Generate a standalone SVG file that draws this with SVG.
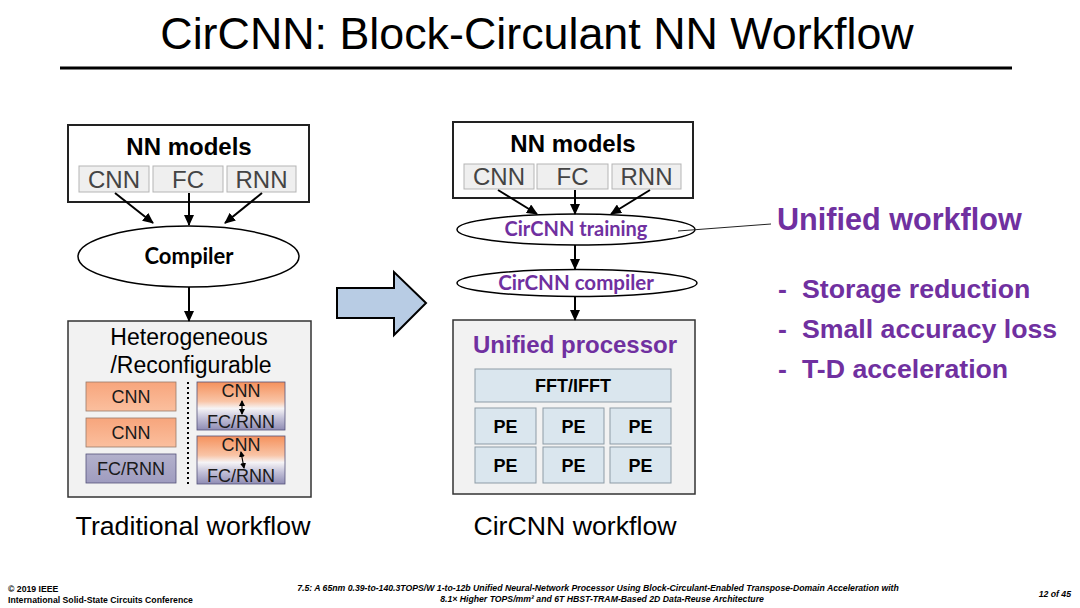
<svg xmlns="http://www.w3.org/2000/svg" width="1080" height="608" viewBox="0 0 1080 608">
<style>
.ar{font-family:"Liberation Sans",Arial,sans-serif}
.b{font-weight:bold}
.cal{font-family:Lato,"Open Sans",sans-serif;font-weight:bold}
.pur{fill:#7030a0}
.conn{stroke:#000;stroke-width:2;fill:none}
.sub{fill:#efefef;stroke:#b5b5b5;stroke-width:1}
.subt{font-family:"Liberation Sans",Arial,sans-serif;font-size:24px;fill:#444;text-anchor:middle}
.frame{fill:#f2f2f2;stroke:#333;stroke-width:1.5}
.blue{fill:#dae6ee;stroke:#8d9ba6;stroke-width:1}
.bt{font-family:"Liberation Sans",Arial,sans-serif;font-weight:bold;font-size:18px;fill:#000;text-anchor:middle}
.blk{font-family:"Liberation Sans",Arial,sans-serif;font-size:18px;fill:#1a1a1a;text-anchor:middle}
.ell{fill:#fff;stroke:#000;stroke-width:1.5}
.bul{font-family:"Liberation Sans",Arial,sans-serif;font-weight:bold;font-size:26.7px;fill:#7030a0}
.foot{font-family:"Liberation Sans",Arial,sans-serif;font-weight:bold;font-size:8.7px;fill:#000}
</style>
<defs>
<marker id="ah" markerUnits="userSpaceOnUse" markerWidth="11" markerHeight="10" refX="10" refY="5" orient="auto">
<path d="M0,0 L11,5 L0,10 z" fill="#000"/>
</marker>
<marker id="sh" markerUnits="userSpaceOnUse" markerWidth="6" markerHeight="6" refX="5" refY="3" orient="auto-start-reverse">
<path d="M0,0 L6,3 L0,6 z" fill="#000"/>
</marker>
<linearGradient id="org" x1="0" y1="0" x2="0" y2="1">
<stop offset="0" stop-color="#f7a57c"/>
<stop offset="1" stop-color="#fbbf9e"/>
</linearGradient>
<linearGradient id="prp" x1="0" y1="0" x2="0" y2="1">
<stop offset="0" stop-color="#b3b1cc"/>
<stop offset="1" stop-color="#9f9cbf"/>
</linearGradient>
<linearGradient id="mix" x1="0" y1="0" x2="0" y2="1">
<stop offset="0" stop-color="#f5915c"/>
<stop offset="0.4" stop-color="#f9c4a6"/>
<stop offset="0.55" stop-color="#f6f4f6"/>
<stop offset="0.75" stop-color="#c3c1d8"/>
<stop offset="1" stop-color="#8f8cb4"/>
</linearGradient>
</defs>
<rect width="1080" height="608" fill="#fff"/>

<g id="title">
<text x="537" y="49" class="ar" font-size="44.8" text-anchor="middle" fill="#000">CirCNN: Block-Circulant NN Workflow</text>
<line x1="60" y1="68" x2="1012" y2="68" stroke="#000" stroke-width="3"/>
</g>

<!-- Left: traditional workflow -->
<g id="left-nn-models">
<rect x="68" y="125" width="241" height="77" fill="#fff" stroke="#222" stroke-width="2"/>
<text x="189" y="155" class="ar b" font-size="24" text-anchor="middle">NN models</text>
<rect class="sub" x="79" y="166" width="70" height="26"/>
<text class="subt" x="114" y="188">CNN</text>
<rect class="sub" x="153" y="166" width="70" height="26"/>
<text class="subt" x="188" y="188">FC</text>
<rect class="sub" x="227" y="166" width="69" height="26"/>
<text class="subt" x="261.5" y="188">RNN</text>
</g>
<g id="left-compiler">
<ellipse class="ell" cx="188.5" cy="256.5" rx="110.5" ry="30.5"/>
<text class="cal" x="189" y="264" font-size="22" text-anchor="middle" fill="#000">Compiler</text>
</g>
<g id="left-hetero">
<rect class="frame" x="68" y="321" width="243" height="176"/>
<text class="ar" x="189" y="345" font-size="23" text-anchor="middle">Heterogeneous</text>
<text class="ar" x="191" y="373" font-size="23" text-anchor="middle">/Reconfigurable</text>
<rect x="86" y="382" width="90" height="29" fill="url(#org)" stroke="#9a7a6a" stroke-width="0.8"/>
<text class="blk" x="131" y="403">CNN</text>
<rect x="86" y="418" width="90" height="29" fill="url(#org)" stroke="#9a7a6a" stroke-width="0.8"/>
<text class="blk" x="131" y="439">CNN</text>
<rect x="86" y="454" width="90" height="29" fill="url(#prp)" stroke="#55537a" stroke-width="0.8"/>
<text class="blk" x="131" y="475">FC/RNN</text>
<line x1="188" y1="382" x2="188" y2="486" stroke="#000" stroke-width="2" stroke-dasharray="2,3"/>
<rect x="197" y="382" width="88" height="48" fill="url(#mix)" stroke="#55537a" stroke-width="0.8"/>
<text class="blk" x="241" y="397">CNN</text>
<text class="blk" x="241" y="428">FC/RNN</text>
<line x1="242" y1="401" x2="242" y2="414" stroke="#000" stroke-width="1.2" marker-start="url(#sh)" marker-end="url(#sh)"/>
<rect x="197" y="436" width="88" height="48" fill="url(#mix)" stroke="#55537a" stroke-width="0.8"/>
<text class="blk" x="241" y="451">CNN</text>
<text class="blk" x="241" y="482">FC/RNN</text>
<line x1="241" y1="452" x2="244" y2="468" stroke="#000" stroke-width="1.2" marker-start="url(#sh)" marker-end="url(#sh)"/>
</g>
<text id="cap-left" class="ar" x="193" y="535" font-size="26.7" text-anchor="middle">Traditional workflow</text>

<g id="big-arrow">
<path d="M337,288 L394,288 L394,272 L426,303 L394,335 L394,318 L337,318 Z" fill="#b8cce4" stroke="#000" stroke-width="2" stroke-linejoin="miter"/>
</g>

<!-- Right: CirCNN workflow -->
<g id="right-nn-models">
<rect x="453" y="122" width="240" height="76" fill="#fff" stroke="#222" stroke-width="2"/>
<text x="573" y="152" class="ar b" font-size="24" text-anchor="middle">NN models</text>
<rect class="sub" x="464" y="164" width="70" height="25"/>
<text class="subt" x="499" y="185">CNN</text>
<rect class="sub" x="537" y="164" width="71" height="25"/>
<text class="subt" x="572.5" y="185">FC</text>
<rect class="sub" x="612" y="164" width="69" height="25"/>
<text class="subt" x="646.5" y="185">RNN</text>
</g>
<g id="cirCNN-training">
<ellipse class="ell" cx="576" cy="229.5" rx="119" ry="15.5"/>
<text class="cal pur" x="576" y="236" font-size="20" text-anchor="middle">CirCNN training</text>
</g>
<g id="cirCNN-compiler">
<ellipse class="ell" cx="577" cy="283" rx="120" ry="13.5"/>
<text class="cal pur" x="576" y="290" font-size="20.5" text-anchor="middle">CirCNN compiler</text>
</g>
<g id="unified-processor">
<rect class="frame" x="453" y="320" width="242" height="174"/>
<text class="ar b pur" x="575" y="353" font-size="24" text-anchor="middle">Unified processor</text>
<rect class="blue" x="475" y="369" width="196" height="33"/>
<text class="bt" x="573" y="392">FFT/IFFT</text>
<rect class="blue" x="475" y="408" width="61" height="36"/>
<text class="bt" x="505.5" y="433">PE</text>
<rect class="blue" x="543" y="408" width="61" height="36"/>
<text class="bt" x="573.5" y="433">PE</text>
<rect class="blue" x="610" y="408" width="61" height="36"/>
<text class="bt" x="640.5" y="433">PE</text>
<rect class="blue" x="475" y="447" width="61" height="36"/>
<text class="bt" x="505.5" y="472">PE</text>
<rect class="blue" x="543" y="447" width="61" height="36"/>
<text class="bt" x="573.5" y="472">PE</text>
<rect class="blue" x="610" y="447" width="61" height="36"/>
<text class="bt" x="640.5" y="472">PE</text>
</g>
<text id="cap-right" class="ar" x="575" y="535" font-size="26.7" text-anchor="middle">CirCNN workflow</text>

<g id="connectors">
<line class="conn" x1="115" y1="193" x2="153" y2="223" marker-end="url(#ah)"/>
<line class="conn" x1="189" y1="193" x2="189" y2="225" marker-end="url(#ah)"/>
<line class="conn" x1="262" y1="193" x2="225" y2="223" marker-end="url(#ah)"/>
<line class="conn" x1="189" y1="287" x2="189" y2="321" marker-end="url(#ah)"/>
<line class="conn" x1="498" y1="190" x2="537" y2="214" marker-end="url(#ah)"/>
<line class="conn" x1="575" y1="190" x2="575" y2="214" marker-end="url(#ah)"/>
<line class="conn" x1="650" y1="190" x2="611" y2="214" marker-end="url(#ah)"/>
<line class="conn" x1="575" y1="245" x2="575" y2="269" marker-end="url(#ah)"/>
<line class="conn" x1="575" y1="297" x2="575" y2="320" marker-end="url(#ah)"/>
<line x1="678" y1="231" x2="771" y2="224" stroke="#222" stroke-width="1"/>
</g>

<g id="unified-workflow">
<text class="ar b pur" x="777" y="230" font-size="30.6">Unified workflow</text>
<text class="bul" x="778" y="298">-</text>
<text class="bul" x="802" y="298">Storage reduction</text>
<text class="bul" x="778" y="338">-</text>
<text class="bul" x="802" y="338">Small accuracy loss</text>
<text class="bul" x="778" y="378">-</text>
<text class="bul" x="802" y="378">T-D acceleration</text>
</g>

<g id="footer">
<text class="foot" x="8" y="592">© 2019 IEEE</text>
<text class="foot" x="8" y="603">International Solid-State Circuits Conference</text>
<text class="foot" x="598" y="591" font-style="italic" font-size="8.6" text-anchor="middle">7.5: A 65nm 0.39-to-140.3TOPS/W 1-to-12b Unified Neural-Network Processor Using Block-Circulant-Enabled Transpose-Domain Acceleration with</text>
<text class="foot" x="602" y="602" font-style="italic" font-size="8.6" text-anchor="middle">8.1× Higher TOPS/mm² and 6T HBST-TRAM-Based 2D Data-Reuse Architecture</text>
<text class="foot" x="1071" y="597" font-style="italic" font-size="8.6" text-anchor="end">12 of 45</text>
</g>
</svg>
